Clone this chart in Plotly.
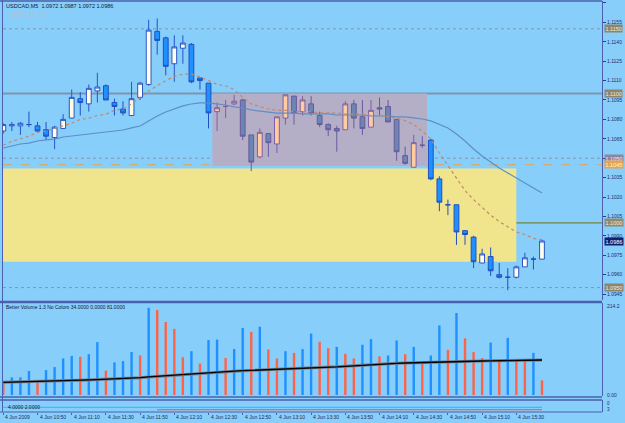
import plotly.graph_objects as go

# ---------------- data ----------------
bar_idx = list(range(64))
tick_idx = [0, 4, 8, 12, 16, 20, 24, 28, 32, 36, 40, 44, 48, 52, 56, 60]
tick_text = ["4 Jun 2009", "4 Jun 10:50", "4 Jun 11:10", "4 Jun 11:30", "4 Jun 11:50",
             "4 Jun 12:10", "4 Jun 12:30", "4 Jun 12:50", "4 Jun 13:10", "4 Jun 13:30",
             "4 Jun 13:50", "4 Jun 14:10", "4 Jun 14:30", "4 Jun 14:50", "4 Jun 15:10",
             "4 Jun 15:30"]
price_ticks = [1.1170, 1.1155, 1.1140, 1.1125, 1.1110, 1.1095, 1.1080, 1.1065, 1.1050,
               1.1035, 1.1020, 1.1005, 1.0990, 1.0975, 1.0960, 1.0945]

open_ = [1.1071, 1.1075, 1.1075, 1.1076, 1.1075, 1.1072, 1.1066, 1.1073, 1.1081, 1.1096,
         1.1092, 1.1102, 1.1106, 1.1093, 1.1088, 1.1083, 1.1097, 1.1107, 1.1148, 1.1143,
         1.1123, 1.1135, 1.1138, 1.1112, 1.1108, 1.1086, 1.1090, 1.1092, 1.1095, 1.1068,
         1.1051, 1.1069, 1.1061, 1.1081, 1.1098, 1.1086, 1.1092, 1.1083, 1.1076, 1.1073,
         1.1072, 1.1092, 1.1082, 1.1074, 1.1089, 1.1090, 1.1080, 1.1052, 1.1043, 1.1060,
         1.1064, 1.1034, 1.1014, 1.1014, 1.0994, 1.0989, 1.0969, 1.0974, 1.0960, 1.0958,
         1.0958, 1.0966, 1.0972, 1.0972]
high = [1.1077, 1.1078, 1.1078, 1.1086, 1.1078, 1.1078, 1.1075, 1.1084, 1.1103, 1.1101,
        1.1107, 1.1116, 1.1107, 1.1096, 1.1094, 1.1109, 1.1109, 1.1157, 1.1158, 1.1144,
        1.1145, 1.1145, 1.1139, 1.1112, 1.1108, 1.1093, 1.1095, 1.1099, 1.1096, 1.1068,
        1.1073, 1.1069, 1.1082, 1.1099, 1.1098, 1.1098, 1.1098, 1.1086, 1.1077, 1.1075,
        1.1094, 1.1095, 1.1095, 1.1095, 1.1097, 1.1095, 1.1080, 1.1059, 1.1068, 1.1067,
        1.1065, 1.1036, 1.1018, 1.1014, 1.0994, 1.0990, 1.0980, 1.0981, 1.0969, 1.0965,
        1.0967, 1.0977, 1.0974, 1.0987]
low = [1.1069, 1.1071, 1.1068, 1.1074, 1.1070, 1.1064, 1.1057, 1.1073, 1.1081, 1.1083,
       1.1086, 1.1093, 1.1095, 1.1083, 1.1083, 1.1083, 1.1095, 1.1106, 1.1130, 1.1114,
       1.1109, 1.1123, 1.1108, 1.1103, 1.1073, 1.1071, 1.1081, 1.1091, 1.1064, 1.1040,
       1.1050, 1.1051, 1.1054, 1.1076, 1.1076, 1.1083, 1.1083, 1.1074, 1.1067, 1.1055,
       1.1072, 1.1073, 1.1068, 1.1074, 1.1083, 1.1078, 1.1048, 1.1045, 1.1043, 1.1058,
       1.1033, 1.1009, 1.1006, 1.0983, 1.0983, 1.0965, 1.0969, 1.0959, 1.0957, 1.0948,
       1.0957, 1.0966, 1.0964, 1.0972]
close = [1.1076, 1.1076, 1.1077, 1.1076, 1.1071, 1.1067, 1.1074, 1.1080, 1.1097, 1.1093,
         1.1104, 1.1105, 1.1095, 1.1090, 1.1085, 1.1096, 1.1108, 1.1149, 1.1141, 1.1121,
         1.1136, 1.1139, 1.1109, 1.1110, 1.1085, 1.1089, 1.1090, 1.1094, 1.1067, 1.1047,
         1.1070, 1.1062, 1.1082, 1.1099, 1.1085, 1.1095, 1.1085, 1.1076, 1.1072, 1.1071,
         1.1092, 1.1081, 1.1073, 1.1087, 1.1088, 1.1078, 1.1055, 1.1046, 1.1062, 1.1060,
         1.1034, 1.1016, 1.1014, 1.0993, 1.0991, 1.0970, 1.0976, 1.0963, 1.0958, 1.0958,
         1.0966, 1.0973, 1.0972, 1.0986]

fast_ma = [1.1060, 1.1063, 1.1065, 1.1067, 1.1070, 1.1071, 1.1073, 1.1075, 1.1077, 1.1080,
           1.1081, 1.1083, 1.1084, 1.1087, 1.1088, 1.1092, 1.1097, 1.1102, 1.1106, 1.1110,
           1.1113, 1.1115, 1.1115, 1.1113, 1.1110, 1.1107, 1.1106, 1.1103, 1.1097, 1.1092,
           1.1090, 1.1088, 1.1087, 1.1087, 1.1086, 1.1086, 1.1086, 1.1085, 1.1085, 1.1085,
           1.1084, 1.1084, 1.1084, 1.1083, 1.1083, 1.1082, 1.1081, 1.1079, 1.1076, 1.1071,
           1.1065, 1.1054, 1.1044, 1.1034, 1.1025, 1.1018, 1.1012, 1.1006, 1.1001, 1.0997,
           1.0993, 1.0991, 1.0988, 1.0987]
slow_ma = [1.10579, 1.10594, 1.10610, 1.10617, 1.10633, 1.10641, 1.10648, 1.10664, 1.10672, 1.10679,
           1.10687, 1.10695, 1.10703, 1.10710, 1.10718, 1.10734, 1.10749, 1.10788, 1.10826, 1.10857,
           1.10880, 1.10904, 1.10919, 1.10927, 1.10927, 1.10919, 1.10911, 1.10896, 1.10888, 1.10873,
           1.10865, 1.10857, 1.10849, 1.10849, 1.10849, 1.10842, 1.10842, 1.10842, 1.10842, 1.10834,
           1.10834, 1.10834, 1.10834, 1.10826, 1.10826, 1.10826, 1.10819, 1.10819, 1.10811, 1.10803,
           1.10788, 1.10764, 1.10734, 1.10687, 1.10633, 1.10571, 1.10517, 1.10471, 1.10424, 1.10386,
           1.10347, 1.10308, 1.10270, 1.10231]

volume = [33, 41, 41, 56, 33, 58, 65, 85, 91, 89,
          95, 123, 57, 76, 79, 100, 92, 203, 198, 170,
          154, 88, 102, 73, 128, 129, 86, 107, 156, 147,
          159, 106, 85, 102, 98, 107, 143, 124, 109, 112,
          96, 85, 117, 130, 90, 92, 127, 95, 112, 75,
          92, 162, 105, 191, 132, 100, 86, 122, 83, 133,
          84, 81, 98, 34]
vol_ma = [29.6, 30.0, 30.3, 30.7, 31.0, 31.6, 32.2, 32.8, 33.3, 34.0,
          35.0, 35.8, 36.5, 37.5, 38.5, 39.4, 40.3, 42.0, 43.5, 45.0,
          46.6, 48.0, 49.3, 50.6, 51.9, 53.0, 54.3, 55.5, 56.6, 57.4,
          58.2, 59.0, 59.8, 60.3, 60.8, 61.3, 61.7, 63.0, 64.3, 65.5,
          66.8, 68.2, 69.5, 70.8, 72.2, 73.0, 73.7, 74.5, 75.2, 75.6,
          76.0, 76.4, 76.8, 77.4, 78.0, 78.6, 79.2, 79.6, 80.0, 80.4,
          80.8, 81.0, 81.2, 81.5]
sub_a = [4.0] * 64
sub_b = [None] * 18 + [2.0] * 46

levels = [1.1150, 1.1100, 1.1050, 1.1045, 1.1000, 1.0950]
level_labels = ["1.1150", "1.1100", "1.1050", "1.1045", "1.1000", "1.0950"]
current_price = 1.0986
grey_zone = (24.45, 49.55, 1.1044, 1.1100)
yellow_zone = (-0.035, 60.0, 1.0970, 1.1042)

title_text = "USDCAD,M5  1.0972 1.0987 1.0972 1.0986"
gmt_text = "GMT: 16:46"
vol_text = "Better Volume 1.3 No Colors 34.0000 0.0000 81.0000"
sub_text = "4.0000 2.0000"

# ---------------- figure ----------------
FONT = "Liberation Sans"
BG = "#87CEFA"
FRAME = "#4C5FAE"

def pick(arr, idx):
    return [arr[i] for i in idx]

inside = [i for i in bar_idx if grey_zone[0] <= i <= grey_zone[1]]
outside = [i for i in bar_idx if i not in inside]

fig = go.Figure()

for idx, inc_fill, inc_line, dec_fill, dec_line in [
        (outside, "#FFFDE8", "#2A55C8", "#1E90FF", "#2350C0"),
        (inside, "#FFCBA0", "#7E5FA8", "#6A87B4", "#6A5A9E")]:
    fig.add_trace(go.Candlestick(
        x=idx, open=pick(open_, idx), high=pick(high, idx), low=pick(low, idx),
        close=pick(close, idx), xaxis="x", yaxis="y", whiskerwidth=0,
        increasing=dict(fillcolor=inc_fill, line=dict(color=inc_line, width=1)),
        decreasing=dict(fillcolor=dec_fill, line=dict(color=dec_line, width=1)),
        showlegend=False, hoverinfo="skip"))

fig.add_trace(go.Scatter(x=bar_idx, y=slow_ma, mode="lines", xaxis="x", yaxis="y",
                         line=dict(color="#5F8EC6", width=1.2), showlegend=False,
                         hoverinfo="skip"))
fig.add_trace(go.Scatter(x=bar_idx, y=fast_ma, mode="lines", xaxis="x", yaxis="y",
                         line=dict(color="#BE8A6E", width=1.2, dash="dot"),
                         showlegend=False, hoverinfo="skip"))

vol_colors = ["#1E90FF" if i > 0 and volume[i] >= volume[i - 1] else "#FF6347"
              for i in bar_idx]
fig.add_trace(go.Bar(x=bar_idx, y=volume, xaxis="x", yaxis="y2", width=0.28,
                     marker=dict(color=vol_colors, line=dict(width=0)),
                     showlegend=False, hoverinfo="skip"))
fig.add_trace(go.Scatter(x=bar_idx, y=vol_ma, mode="lines", xaxis="x", yaxis="y2",
                         line=dict(color="#6E7E90", width=3), showlegend=False,
                         hoverinfo="skip"))
fig.add_trace(go.Scatter(x=bar_idx, y=vol_ma, mode="lines", xaxis="x", yaxis="y2",
                         line=dict(color="#000000", width=1.3), showlegend=False,
                         hoverinfo="skip"))

fig.add_trace(go.Scatter(x=bar_idx, y=sub_a, mode="lines", xaxis="x", yaxis="y3",
                         line=dict(color="#38BDF5", width=1.2), showlegend=False,
                         hoverinfo="skip"))
fig.add_trace(go.Scatter(x=bar_idx, y=sub_b, mode="lines", xaxis="x", yaxis="y3",
                         line=dict(color="#F06A4A", width=1.2), showlegend=False,
                         hoverinfo="skip"))

shapes = []
shapes.append(dict(type="rect", xref="x", yref="y", x0=yellow_zone[0], x1=yellow_zone[1],
                   y0=yellow_zone[2], y1=yellow_zone[3], fillcolor="#F0E48C",
                   line=dict(width=0), layer="below"))
shapes.append(dict(type="rect", xref="x", yref="y", x0=grey_zone[0], x1=grey_zone[1],
                   y0=grey_zone[2], y1=grey_zone[3], fillcolor="#B4AFC6",
                   line=dict(width=0), layer="below"))
level_styles = [("#8A93A8", 1, "dot"), ("#7E94B2", 2, "solid"), ("#8A93A8", 1, "dot"),
                ("#E2A458", 1, "dash"), ("#74843E", 1.2, "solid"), ("#8A93A8", 1, "dot")]
for lv, (col, w, d) in zip(levels, level_styles):
    shapes.append(dict(type="line", xref="paper", yref="y", x0=0, x1=1, y0=lv, y1=lv,
                       line=dict(color=col, width=w, dash=d), layer="below"))

def py(ypx):
    return (412 - ypx) / 411.0

def px(xpx):
    return (xpx - 3) / 599.0

for y_, w in [(1, 1.5), (302, 2.5), (397, 1.5), (400, 1.5), (412, 1)]:
    shapes.append(dict(type="line", xref="paper", yref="paper", x0=px(0), x1=px(602),
                       y0=py(y_), y1=py(y_), line=dict(color=FRAME, width=w)))
shapes.append(dict(type="line", xref="paper", yref="paper", x0=px(2.5), x1=px(2.5),
                   y0=py(0), y1=py(412), line=dict(color=FRAME, width=1)))

annotations = []
label_colors = [("#8C8670", "#F4ECD0"), ("#8C8670", "#F4ECD0"), ("#8E86A0", "#F0ECF8"),
                ("#E3A552", "#FFF4DC"), ("#8E8A70", "#F4ECD0"), ("#8C8670", "#F4ECD0")]
for lv, txt, (bg, fc) in zip(levels, level_labels, label_colors):
    annotations.append(dict(x=px(604), y=lv, xref="paper", yref="y", text=txt,
                            showarrow=False, xanchor="left", yanchor="middle",
                            bgcolor=bg, borderpad=0.5,
                            font=dict(family=FONT, size=5.5, color=fc)))
annotations.append(dict(x=px(604), y=current_price, xref="paper", yref="y",
                        text=f"{current_price:.4f}", showarrow=False, xanchor="left",
                        yanchor="middle", bgcolor="#10206E", borderpad=0.5,
                        font=dict(family=FONT, size=5.5, color="#FFFFFF")))

for t, txt in zip(tick_idx, tick_text):
    annotations.append(dict(x=t, y=py(417), xref="x", yref="paper", text=txt,
                            showarrow=False, xanchor="left", yanchor="middle",
                            font=dict(family=FONT, size=5, color="#1A2A60")))

annotations += [
    dict(x=px(4), y=py(6), xref="paper", yref="paper", text=title_text, showarrow=False,
         xanchor="left", yanchor="middle", font=dict(family=FONT, size=5.5, color="#101838")),
    dict(x=px(8), y=py(15), xref="paper", yref="paper", text=gmt_text, showarrow=False,
         xanchor="left", yanchor="middle", font=dict(family=FONT, size=7, color="#B4C2D4")),
    dict(x=px(4), y=py(307), xref="paper", yref="paper", text=vol_text, showarrow=False,
         xanchor="left", yanchor="middle", font=dict(family=FONT, size=5, color="#101838")),
    dict(x=px(6), y=py(407), xref="paper", yref="paper", text=sub_text, showarrow=False,
         xanchor="left", yanchor="middle", font=dict(family=FONT, size=5, color="#101838")),
    dict(x=px(605), y=py(306), xref="paper", yref="paper", text="214.2", showarrow=False,
         xanchor="left", yanchor="middle", font=dict(family=FONT, size=5, color="#1E2E6E")),
    dict(x=px(605), y=py(395), xref="paper", yref="paper", text="0.00", showarrow=False,
         xanchor="left", yanchor="middle", font=dict(family=FONT, size=5, color="#1E2E6E")),
    dict(x=px(605), y=py(403), xref="paper", yref="paper", text="0", showarrow=False,
         xanchor="left", yanchor="middle", font=dict(family=FONT, size=4.5, color="#1E2E6E")),
    dict(x=px(605), y=py(409), xref="paper", yref="paper", text="3", showarrow=False,
         xanchor="left", yanchor="middle", font=dict(family=FONT, size=4.5, color="#1E2E6E")),
]

fig.update_layout(
    width=625, height=423,
    margin=dict(l=3, r=23, t=1, b=11),
    paper_bgcolor=BG, plot_bgcolor=BG,
    showlegend=False, boxgap=0.2,
    xaxis=dict(domain=[0, 1], range=[-0.035, 70.02], anchor="y3", showgrid=False,
               zeroline=False, tickvals=tick_idx, ticks="outside", ticklen=2,
               tickcolor=FRAME, showticklabels=False, showline=False,
               rangeslider=dict(visible=False), fixedrange=True),
    yaxis=dict(domain=[py(300), 1], range=[1.09404, 1.11715], side="right", anchor="x",
               tickvals=price_ticks, ticktext=[f"{v:.4f}" for v in price_ticks],
               ticks="outside", ticklen=3, tickcolor="#2A3C90",
               tickfont=dict(family=FONT, size=5, color="#1E2E6E"),
               showgrid=False, zeroline=False, showline=True, linecolor=FRAME,
               linewidth=1, fixedrange=True),
    yaxis2=dict(domain=[py(396), py(303)], range=[-2.33, 214.2], side="right", anchor="x",
                showticklabels=False, ticks="", showgrid=False, zeroline=False,
                showline=True, linecolor=FRAME, linewidth=1, fixedrange=True),
    yaxis3=dict(domain=[0, py(400)], range=[0, 10.2], side="right", anchor="x",
                showticklabels=False, ticks="", showgrid=False, zeroline=False,
                showline=True, linecolor=FRAME, linewidth=1, fixedrange=True),
    shapes=shapes, annotations=annotations,
)

fig.write_html("out.html")
